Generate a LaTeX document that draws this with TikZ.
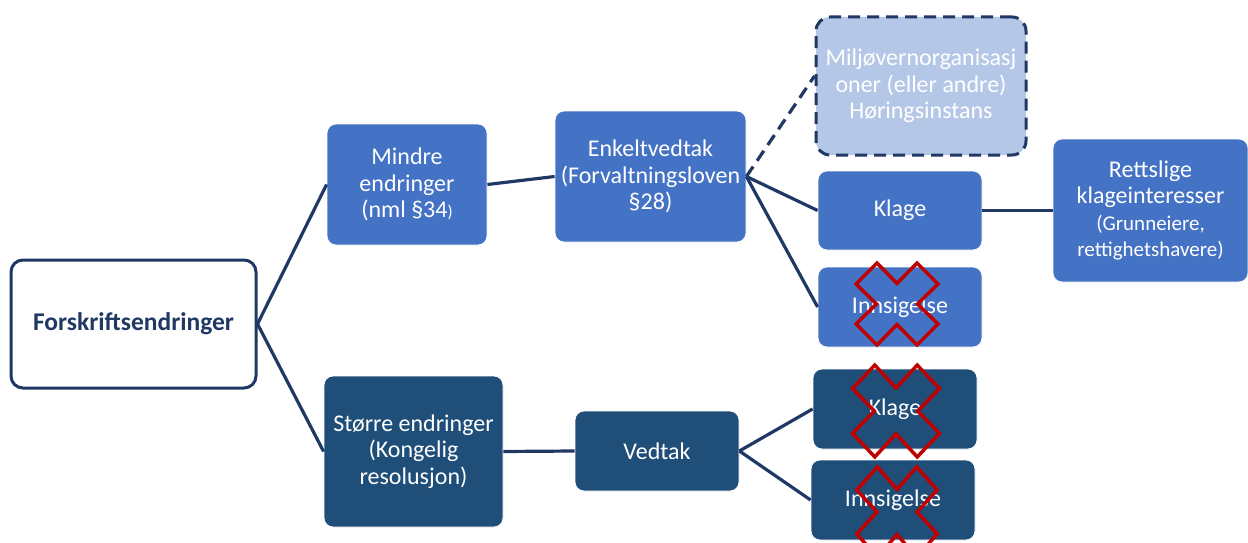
\documentclass[tikz,border=0pt]{standalone}
\usepackage{fontspec}
\setmainfont{Carlito}
\definecolor{navy}{HTML}{203864}
\definecolor{midblue}{HTML}{4472C4}
\definecolor{darkblue}{HTML}{1F4E79}
\definecolor{lightblue}{HTML}{B4C7E7}
\definecolor{xred}{HTML}{C00000}
\tikzset{
  box/.style={rounded corners=9pt, draw=white, line width=0.8pt, align=center, text=white, inner sep=2pt, font=\fontsize{24}{26.5}\selectfont},
  midbox/.style={box, fill=midblue},
  darkbox/.style={box, fill=darkblue},
  conn/.style={draw=navy, line width=3.2pt},
  xmark/.style={draw=xred, line width=3.5pt, line join=miter},
}
\newcommand\myredx[3]{%
  \draw[xmark, shift={(#1)}, xscale=#2, yscale=#3]
   (0,-20.5) -- (20,-41) -- (41,-20) -- (20.5,0) -- (41,20) -- (20,41) -- (0,20.5)
   -- (-20,41) -- (-41,20) -- (-20.5,0) -- (-41,-20) -- (-20,-41) -- cycle;}
\begin{document}
\begin{tikzpicture}[x=1pt,y=-1pt]
\useasboundingbox (0,0) rectangle (1248,543);
\node[box, fill=white, draw=navy, line width=3pt, rounded corners=12pt, minimum width=245pt, minimum height=128pt, text=navy, font=\fontsize{25.5}{28}\selectfont\bfseries] (F) at (133.5,324) {Forskriftsendringer};
\node[midbox, minimum width=160pt, minimum height=121pt] (M) at (407,184.5) {Mindre\\endringer\\(nml §34{\fontsize{17}{17}\selectfont)}};
\node[midbox, minimum width=191pt, minimum height=131pt] (E) at (650.5,176.5) {Enkeltvedtak\\(Forvaltningsloven\\§28)};
\node[box, fill=lightblue, draw=navy, line width=3pt, dash pattern=on 12pt off 7pt, rounded corners=14pt, minimum width=210pt, minimum height=138pt] (Mil) at (921,86) {Miljøvernorganisasj\\oner (eller andre)\\Høringsinstans};
\node[midbox, minimum width=164pt, minimum height=79pt] (K1) at (900,210.5) {Klage};
\node[midbox, minimum width=164pt, minimum height=80pt] (I1) at (900,307) {Innsigelse};
\node[midbox, minimum width=195pt, minimum height=143pt] (R) at (1150.5,210.5) {Rettslige\\klageinteresser\\{\fontsize{21}{22}\selectfont (Grunneiere,}\\{\fontsize{21}{22}\selectfont rettighetshavere)}};
\node[darkbox, minimum width=179pt, minimum height=151pt] (S) at (413.5,451.5) {Større endringer\\(Kongelig\\resolusjon)};
\node[darkbox, minimum width=164pt, minimum height=80pt] (V) at (657,451) {Vedtak};
\node[darkbox, minimum width=164pt, minimum height=80pt] (K2) at (895,409) {Klage};
\node[darkbox, minimum width=164pt, minimum height=80pt] (I2) at (893,500) {Innsigelse};
\draw[conn] (F.east) -- (M.west);
\draw[conn] (F.east) -- (S.west);
\draw[conn] (M.east) -- (E.west);
\draw[conn, dash pattern=on 12pt off 7pt] (E.east) -- ([yshift=10pt]Mil.west);
\draw[conn] (E.east) -- (K1.west);
\draw[conn] (E.east) -- (I1.west);
\draw[conn] (K1.east) -- (R.west);
\draw[conn] (S.east) -- (V.west);
\draw[conn] (V.east) -- (K2.west);
\draw[conn] (V.east) -- (I2.west);
\myredx{897,304}{1}{1}
\myredx{896,411}{1.06}{1.12}
\myredx{897,512}{0.98}{1.1}
\end{tikzpicture}
\end{document}
